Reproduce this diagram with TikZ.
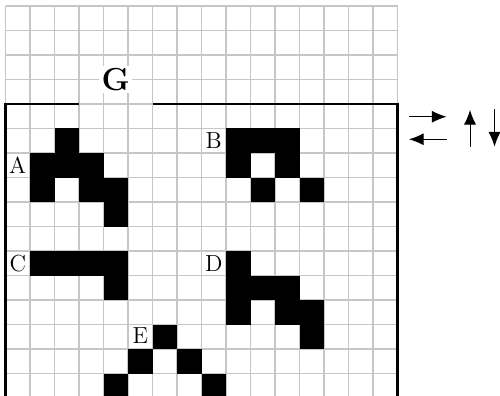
\documentclass[tikz,border=0pt]{standalone}
\usetikzlibrary{arrows.meta}
\begin{document}
\begin{tikzpicture}[x=0.5cm,y=0.5cm,
  gridline/.style={draw=gray!45, line width=0.6pt},
  frameline/.style={draw=black, line width=1.3pt},
  cellfill/.style={fill=black},
  lbl/.style={font=\fontsize{13.5}{15}\selectfont, inner sep=0pt},
  biglbl/.style={font=\fontsize{18.5}{20}\selectfont\bfseries, fill=white, inner sep=1.5pt},
  dirarrow/.style={-{Latex[length=8.5pt,width=7pt]}, line width=0.6pt, draw=black}
]
\clip (-0.2245,0.245) rectangle (20.184,-15.918);
\fill[white] (-0.2245,0.245) rectangle (20.184,-15.918);
\draw[gridline, step=1] (0,0) grid (16,-16);
% black cells
\foreach \c/\r in {2/5,1/6,2/6,3/6,1/7,3/7,4/7,4/8,
                   9/5,10/5,11/5,9/6,11/6,10/7,12/7,
                   1/10,2/10,3/10,4/10,4/11,
                   9/10,9/11,10/11,11/11,9/12,11/12,12/12,12/13,
                   6/13,5/14,7/14,4/15,8/15}
  \fill[cellfill] (\c,-\r) rectangle ++(1,-1);
% frame
\draw[frameline] (3,-4) -- (0,-4) -- (0,-16.5);
\draw[frameline] (6,-4) -- (16,-4) -- (16,-16.5);
% labels
\node[biglbl] (G) at (4.5,-3) {G};
\node[lbl] (A) at (0.5,-6.5) {A};
\node[lbl] (B) at (8.5,-5.5) {B};
\node[lbl] (C) at (0.5,-10.5) {C};
\node[lbl] (D) at (8.5,-10.5) {D};
\node[lbl] (E) at (5.5,-13.45) {E};
% direction arrows
\coordinate (r0) at (16.47,-4.52);
\coordinate (r1) at (18.0,-4.52);
\coordinate (l0) at (18.0,-5.44);
\coordinate (l1) at (16.47,-5.44);
\coordinate (u0) at (18.96,-5.74);
\coordinate (u1) at (18.96,-4.24);
\coordinate (d0) at (19.96,-4.2);
\coordinate (d1) at (19.96,-5.74);
\draw[dirarrow] (r0) -- (r1);
\draw[dirarrow] (l0) -- (l1);
\draw[dirarrow] (u0) -- (u1);
\draw[dirarrow] (d0) -- (d1);
\end{tikzpicture}
\end{document}
